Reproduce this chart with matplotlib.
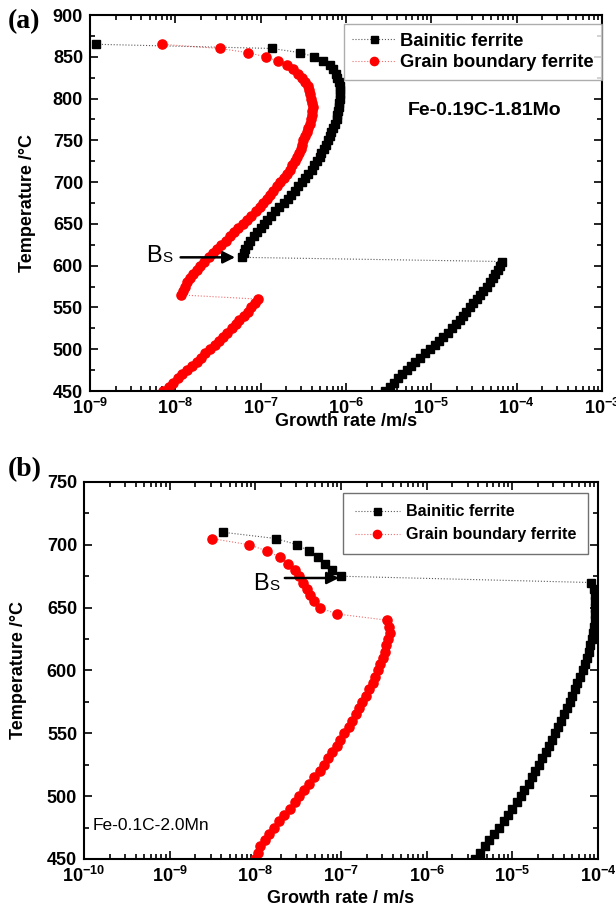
import matplotlib.pyplot as plt
import numpy as np
from matplotlib.ticker import LogLocator, MultipleLocator, FuncFormatter, NullFormatter

plt.rcParams['font.family'] = ['Liberation Sans', 'DejaVu Sans']
plt.rcParams['mathtext.fontset'] = 'custom'
plt.rcParams['mathtext.rm'] = 'Liberation Sans'
plt.rcParams['mathtext.bf'] = 'Liberation Sans:bold'

# (a) Fe-0.19C-1.81Mo : temperature (C) and log10 growth rate (m/s)
Ta_bf = [865, 860, 855, 850, 845, 840, 835, 830, 825, 820, 815, 810, 805, 800,
         795, 790, 785, 780, 775, 770, 765, 760, 755, 750, 745, 740, 735, 730,
         725, 720, 715, 710, 705, 700, 695, 690, 685, 680, 675, 670, 665, 660,
         655, 650, 645, 640, 635, 630, 625, 620, 615, 610,
         605, 600, 595, 590, 585, 580, 575, 570, 565, 560, 555, 550, 545, 540,
         535, 530, 525, 520, 515, 510, 505, 500, 495, 490, 485, 480, 475, 470,
         465, 460, 455, 450]
La_bf = [-8.93, -6.87, -6.54, -6.37, -6.27, -6.19, -6.15, -6.12, -6.10, -6.08,
         -6.07, -6.07, -6.07, -6.07, -6.08, -6.08, -6.09, -6.10, -6.11, -6.13,
         -6.15, -6.17, -6.19, -6.21, -6.23, -6.26, -6.29, -6.31, -6.34, -6.37,
         -6.40, -6.44, -6.48, -6.52, -6.56, -6.60, -6.64, -6.68, -6.73, -6.78,
         -6.83, -6.88, -6.92, -6.96, -7.00, -7.04, -7.08, -7.12, -7.15, -7.18,
         -7.20, -7.22,
         -4.17, -4.20, -4.22, -4.25, -4.28, -4.31, -4.35, -4.39, -4.43, -4.47,
         -4.51, -4.55, -4.59, -4.63, -4.67, -4.71, -4.76, -4.81, -4.86, -4.91,
         -4.96, -5.01, -5.07, -5.13, -5.19, -5.24, -5.29, -5.34, -5.39, -5.44,
         -5.49, -5.54]

Ta_gb = [865, 860, 855, 850, 845, 840, 835, 830, 825, 820, 815, 810, 805, 800,
         795, 790, 785, 780, 775, 770, 765, 760, 755, 750, 745, 740, 735, 730,
         725, 720, 715, 710, 705, 700, 695, 690, 685, 680, 675, 670, 665, 660,
         655, 650, 645, 640, 635, 630, 625, 620, 615, 610, 605, 600, 595, 590,
         585, 580, 575, 570, 565,
         560, 555, 550, 545, 540, 535, 530, 525, 520, 515, 510, 505, 500, 495,
         490, 485, 480, 475, 470, 465, 460, 455, 450]
La_gb = [-8.16, -7.48, -7.15, -6.94, -6.80, -6.69, -6.62, -6.56, -6.51, -6.48,
         -6.45, -6.43, -6.42, -6.41, -6.40, -6.39, -6.40, -6.40, -6.41, -6.42,
         -6.44, -6.46, -6.48, -6.50, -6.52, -6.53, -6.55, -6.57, -6.60, -6.63,
         -6.66, -6.69, -6.73, -6.77, -6.81, -6.85, -6.89, -6.93, -6.97, -7.01,
         -7.06, -7.11, -7.16, -7.21, -7.26, -7.31, -7.36, -7.41, -7.46, -7.51,
         -7.56, -7.61, -7.66, -7.71, -7.75, -7.79, -7.83, -7.86, -7.89, -7.91,
         -7.93,
         -7.03, -7.07, -7.11, -7.15, -7.20, -7.25, -7.29, -7.34, -7.39, -7.44,
         -7.49, -7.54, -7.59, -7.65, -7.70, -7.75, -7.81, -7.86, -7.92, -7.97,
         -8.03, -8.08, -8.14]

# (b) Fe-0.1C-2.0Mn
Tb_bf = [710, 705, 700, 695, 690, 685, 680, 675,
         670, 665, 660, 655, 650, 645, 640, 635, 630, 625, 620, 615, 610, 605,
         600, 595, 590, 585, 580, 575, 570, 565, 560, 555, 550, 545, 540, 535,
         530, 525, 520, 515, 510, 505, 500, 495, 490, 485, 480, 475, 470, 465,
         460, 455, 450]
Lb_bf = [-8.38, -7.76, -7.51, -7.37, -7.27, -7.19, -7.11, -7.00,
         -4.08, -4.05, -4.04, -4.03, -4.03, -4.03, -4.04, -4.05, -4.06, -4.07,
         -4.09, -4.11, -4.13, -4.15, -4.18, -4.21, -4.24, -4.27, -4.30, -4.33,
         -4.36, -4.40, -4.43, -4.47, -4.50, -4.54, -4.57, -4.61, -4.65, -4.69,
         -4.73, -4.77, -4.81, -4.86, -4.90, -4.95, -5.00, -5.05, -5.10, -5.16,
         -5.21, -5.27, -5.32, -5.38, -5.44]

Tb_gb = [705, 700, 695, 690, 685, 680, 675, 670, 665, 660, 655, 650, 645,
         640, 635, 630, 625, 620, 615, 610, 605, 600, 595, 590, 585, 580, 575,
         570, 565, 560, 555, 550, 545, 540, 535, 530, 525, 520, 515, 510, 505,
         500, 495, 490, 485, 480, 475, 470, 465, 460, 455, 450]
Lb_gb = [-8.51, -8.07, -7.86, -7.71, -7.62, -7.54, -7.49, -7.44, -7.40, -7.36,
         -7.31, -7.25, -7.05,
         -6.46, -6.44, -6.43, -6.45, -6.47, -6.49, -6.51, -6.54, -6.57, -6.60,
         -6.63, -6.67, -6.71, -6.75, -6.79, -6.83, -6.87, -6.91, -6.96, -7.01,
         -7.05, -7.10, -7.15, -7.20, -7.25, -7.31, -7.37, -7.43, -7.49, -7.54,
         -7.60, -7.66, -7.72, -7.78, -7.84, -7.89, -7.94, -7.97, -8.00]


def style_axes(ax, xlo, xhi, ylo, yhi, xlabel, xlpad, ylpad):
    ax.set_xscale('log')
    ax.set_xlim(xlo, xhi)
    ax.set_ylim(ylo, yhi)
    ax.xaxis.set_major_locator(LogLocator(base=10, numticks=20))
    ax.xaxis.set_minor_locator(LogLocator(base=10, subs=np.arange(2, 10), numticks=20))
    ax.xaxis.set_minor_formatter(NullFormatter())
    ax.xaxis.set_major_formatter(FuncFormatter(lambda v, p: r'$\mathbf{10^{%d}}$' % round(np.log10(v))))
    ax.yaxis.set_major_locator(MultipleLocator(50))
    ax.yaxis.set_minor_locator(MultipleLocator(25))
    ax.tick_params(which='both', direction='in', top=True, right=True, width=1.2)
    ax.tick_params(which='major', length=6, labelsize=13, pad=5)
    ax.tick_params(which='minor', length=3.5)
    for t in ax.get_yticklabels():
        t.set_fontweight('bold')
    for s in ax.spines.values():
        s.set_linewidth(1.5)
    ax.set_xlabel(xlabel, fontsize=13, fontweight='bold', labelpad=xlpad)
    ax.set_ylabel('Temperature /°C', fontsize=13, fontweight='bold', labelpad=ylpad)


fig = plt.figure(figsize=(6.16, 9.06), dpi=100)

ax1 = fig.add_axes([0.1461, 0.5684, 0.8312, 0.415])
ax1.plot(10 ** np.array(La_bf), Ta_bf, ls=':', lw=0.8, color='0.35', marker='s',
         ms=5.6, mfc='k', mec='k', label='Bainitic ferrite')
ax1.plot(10 ** np.array(La_gb), Ta_gb, ls=':', lw=0.8, color='#f07070', marker='o',
         ms=6.6, mfc='red', mec='red', label='Grain boundary ferrite')
style_axes(ax1, 1e-9, 1e-3, 450, 900, 'Growth rate /m/s', -4, 12)
leg = ax1.legend(loc='upper right', bbox_to_anchor=(1.0, 0.975), fancybox=False,
                 prop={'weight': 'bold', 'size': 13.2}, handlelength=2.3,
                 borderpad=0.45, labelspacing=0.25, handletextpad=0.3,
                 borderaxespad=0, markerscale=0.9)
leg.get_frame().set_edgecolor('0.6')
leg.get_frame().set_linewidth(1.0)
ax1.text(0.77, 0.747, 'Fe-0.19C-1.81Mo', transform=ax1.transAxes, ha='center',
         va='center', fontsize=14, fontweight='bold')
ax1.annotate('', xy=(5.4e-8, 610), xytext=(1.07e-8, 610),
             arrowprops=dict(arrowstyle='-|>', lw=1.8, color='k', mutation_scale=18))
ax1.text(7.0e-9, 604, 'B', ha='right', va='baseline', fontsize=17)
ax1.text(7.0e-9, 604, 'S', ha='left', va='baseline', fontsize=11)

ax2 = fig.add_axes([0.1364, 0.0519, 0.8344, 0.4161])
ax2.plot(10 ** np.array(Lb_bf), Tb_bf, ls=':', lw=0.8, color='0.35', marker='s',
         ms=5.6, mfc='k', mec='k', label='Bainitic ferrite')
ax2.plot(10 ** np.array(Lb_gb), Tb_gb, ls=':', lw=0.8, color='#f07070', marker='o',
         ms=6.6, mfc='red', mec='red', label='Grain boundary ferrite')
style_axes(ax2, 1e-10, 1e-4, 450, 750, 'Growth rate / m/s', 3, 14)
leg2 = ax2.legend(loc='upper right', bbox_to_anchor=(0.98, 0.971), fancybox=False,
                  prop={'weight': 'bold', 'size': 11.6}, handlelength=2.8,
                  borderpad=0.7, labelspacing=0.5, handletextpad=0.4,
                  borderaxespad=0, markerscale=0.9)
leg2.get_frame().set_edgecolor('0.3')
leg2.get_frame().set_linewidth(1.0)
ax2.text(0.0175, 0.0875, 'Fe-0.1C-2.0Mn', transform=ax2.transAxes, ha='left',
         va='center', fontsize=12.5)
ax2.annotate('', xy=(1.02e-7, 673.6), xytext=(2.05e-8, 673.6),
             arrowprops=dict(arrowstyle='-|>', lw=1.8, color='k', mutation_scale=18))
ax2.text(1.45e-8, 664, 'B', ha='right', va='baseline', fontsize=17)
ax2.text(1.45e-8, 664, 'S', ha='left', va='baseline', fontsize=11)

fig.text(0.012, 0.976, '(a)', fontsize=20, fontweight='bold', va='center',
         family=['Liberation Serif', 'DejaVu Serif'])
fig.text(0.012, 0.482, '(b)', fontsize=20, fontweight='bold', va='center',
         family=['Liberation Serif', 'DejaVu Serif'])

fig.savefig('out.png', dpi=100)
